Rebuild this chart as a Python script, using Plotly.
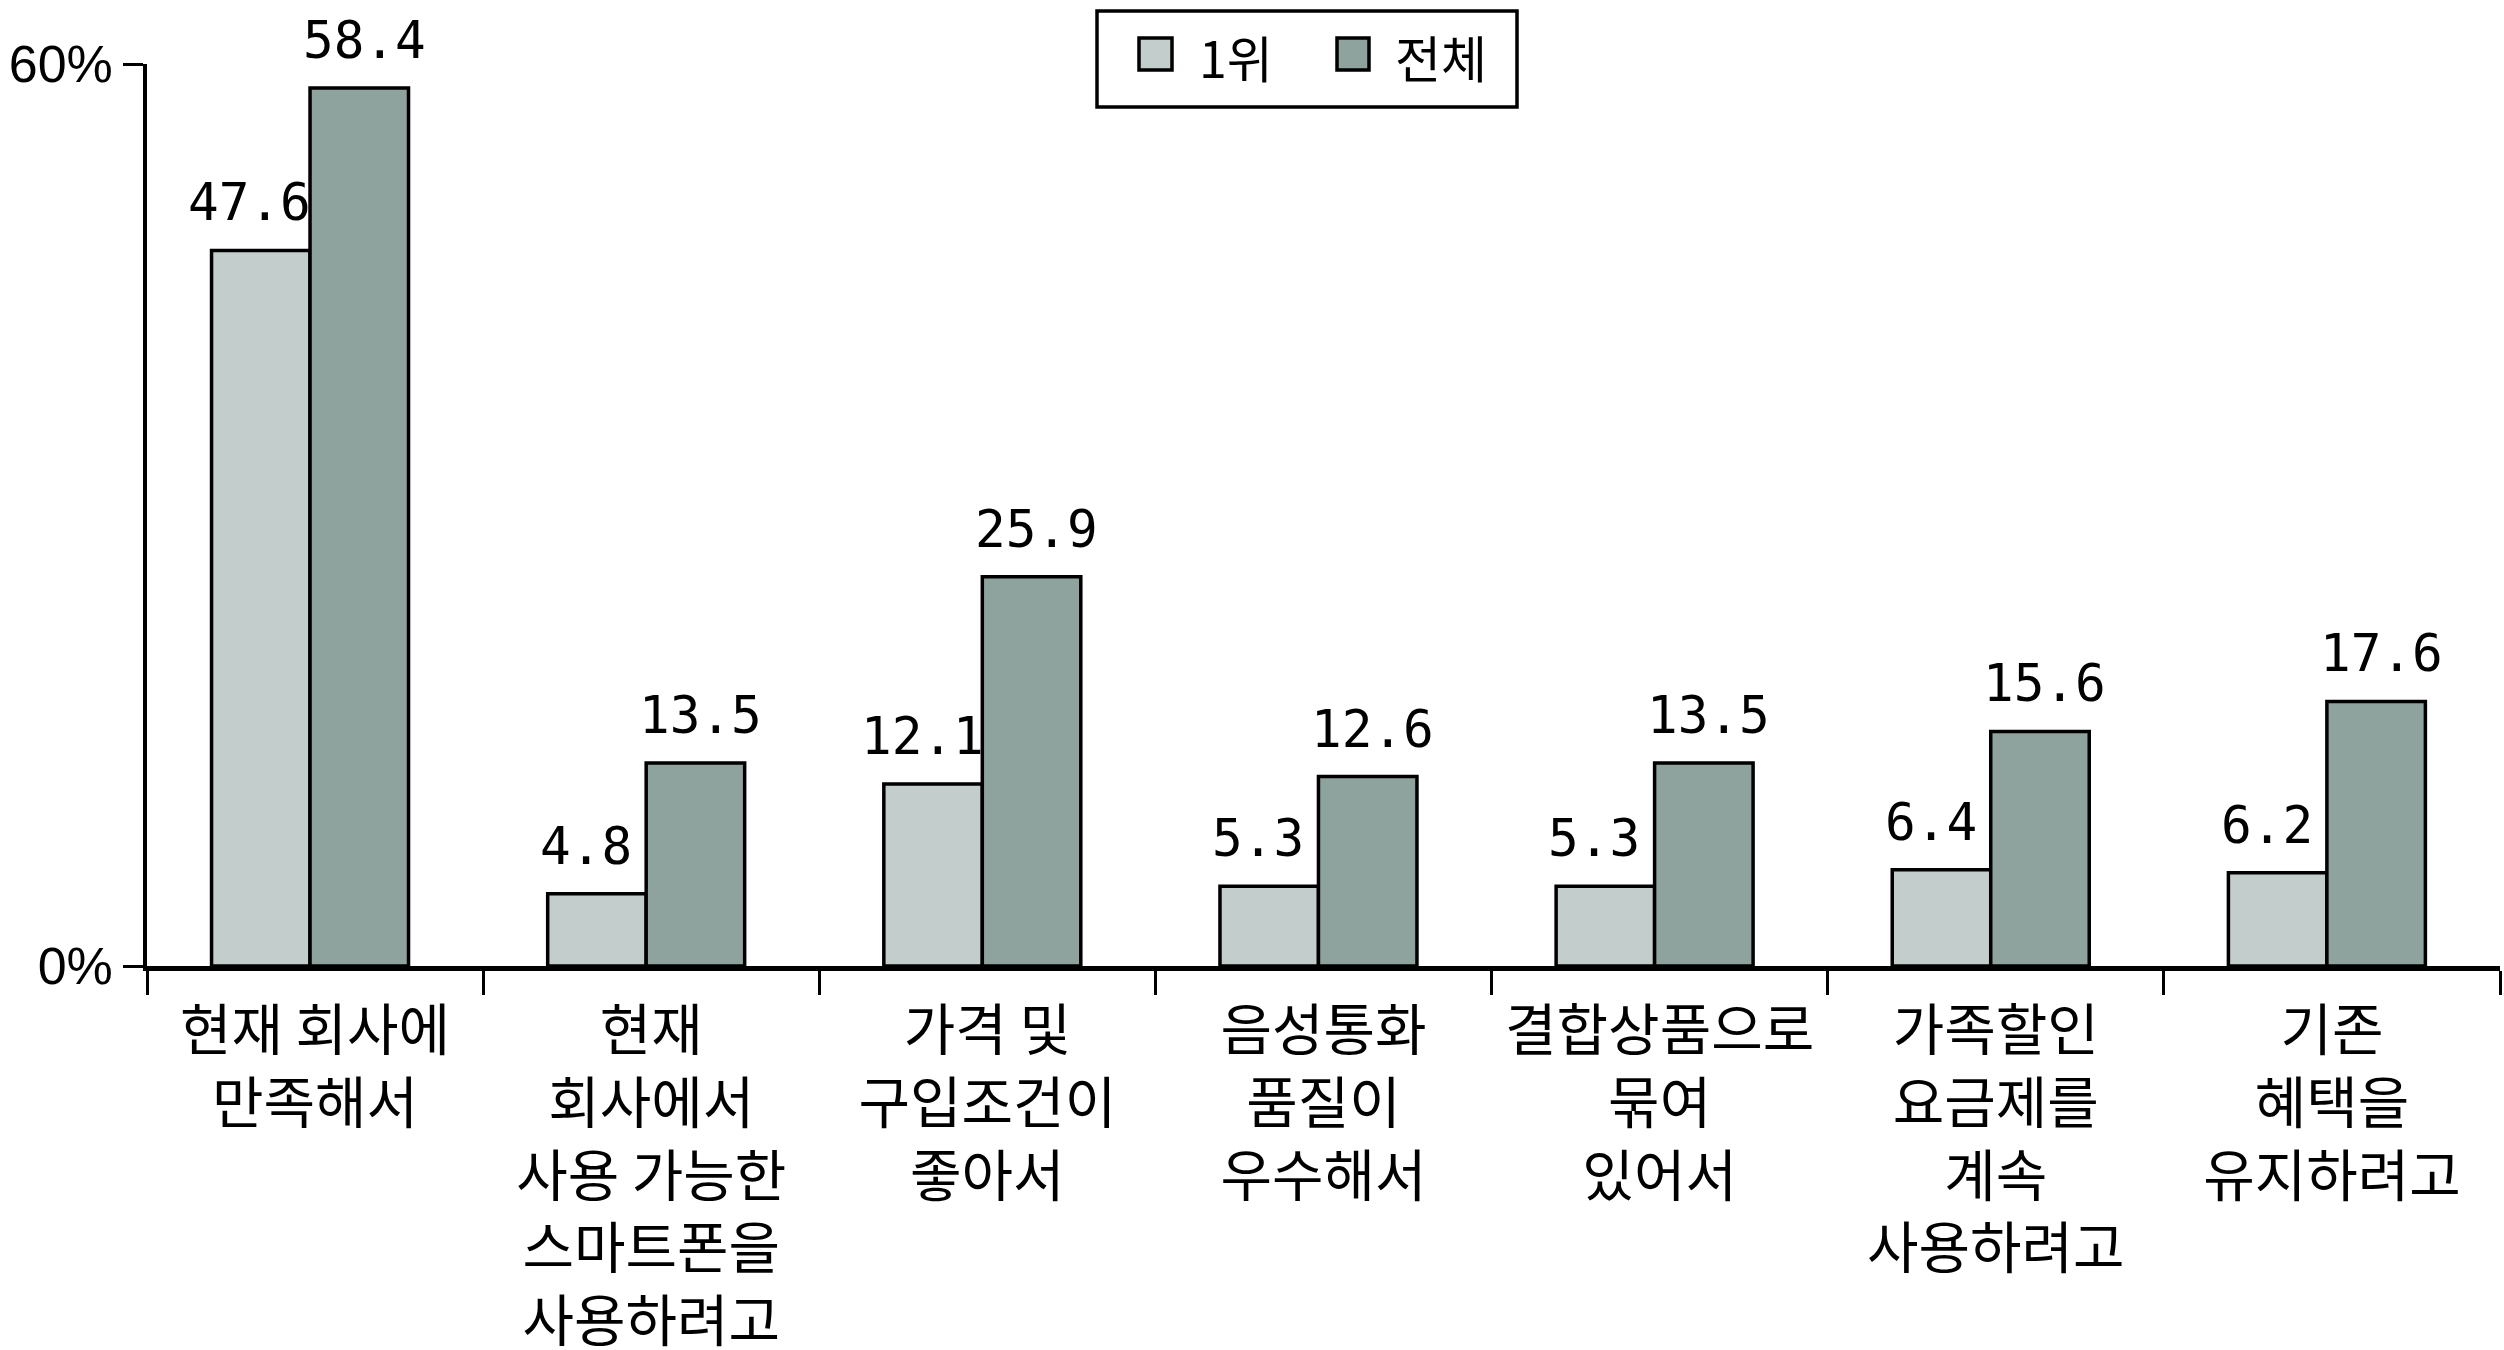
import plotly.graph_objects as go

categories = [
    "현재 회사에<br>만족해서",
    "현재<br>회사에서<br>사용 가능한<br>스마트폰을<br>사용하려고",
    "가격 및<br>구입조건이<br>좋아서",
    "음성통화<br>품질이<br>우수해서",
    "결합상품으로<br>묶여<br>있어서",
    "가족할인<br>요금제를<br>계속<br>사용하려고",
    "기존<br>혜택을<br>유지하려고",
]
series_names = ["1위", "전체"]
first_rank = [47.6, 4.8, 12.1, 5.3, 5.3, 6.4, 6.2]
total = [58.4, 13.5, 25.9, 12.6, 13.5, 15.6, 17.6]
ytick_vals = [0, 60]
ytick_text = ["0%", "60%"]

W, H = 2504, 1350
ML, MR, MT, MB = 147, 4, 64, 384
PW, PH = W - ML - MR, H - MT - MB
BAR_W = 0.293          # bar width, in category units
BAR_OFFSETS = [-0.308, -0.015]
LABEL_NUDGE = [-11, 5]  # px nudge of value labels relative to bar centre
colors = ["#C3CDCC", "#8EA29E"]

KFONT = "Noto Sans CJK KR, Noto Sans, sans-serif"
NFONT = "Liberation Sans, Arial, sans-serif"
MFONT = "DejaVu Sans Mono, Liberation Mono, monospace"

fig = go.Figure()
for name, vals, col, off in zip(series_names, [first_rank, total], colors, BAR_OFFSETS):
    fig.add_trace(go.Bar(
        x=categories, y=vals, name=name, width=BAR_W, offset=off,
        marker=dict(color=col, line=dict(color="black", width=3.5)),
        showlegend=False,
    ))

# value labels
cat_px = PW / len(categories)
ann = []
for vals, off, nudge in zip([first_rank, total], BAR_OFFSETS, LABEL_NUDGE):
    shift = (off + BAR_W / 2) * cat_px + nudge
    for c, v in zip(categories, vals):
        ann.append(dict(x=c, y=v, xref="x", yref="y", text=f"{v:.1f}",
                        showarrow=False, xshift=shift, yshift=16,
                        yanchor="bottom", xanchor="center",
                        font=dict(family=MFONT, size=51, color="black")))

def px2x(px):
    return (px - ML) / PW

def py2y(py):
    return (MT + PH - py) / PH

# legend box (drawn)
shapes = [
    dict(type="rect", xref="paper", yref="paper",
         x0=px2x(1097), x1=px2x(1517), y0=py2y(107), y1=py2y(11),
         line=dict(color="black", width=3.5), fillcolor="white"),
]
legend_items = [(1139, 1172, 1197), (1337, 1369, 1393)]
for (sx0, sx1, tx), name, col in zip(legend_items, series_names, colors):
    shapes.append(dict(type="rect", xref="paper", yref="paper",
                       x0=px2x(sx0), x1=px2x(sx1), y0=py2y(70), y1=py2y(38),
                       line=dict(color="black", width=3.5), fillcolor=col))
    ann.append(dict(x=px2x(tx), y=py2y(56), xref="paper", yref="paper",
                    text=name, showarrow=False, xanchor="left", yanchor="middle",
                    font=dict(family=KFONT, size=50, color="black")))

fig.update_layout(
    width=W, height=H,
    margin=dict(l=ML, r=MR, t=MT, b=MB, autoexpand=False),
    paper_bgcolor="white", plot_bgcolor="white",
    barmode="group",
    annotations=ann, shapes=shapes,
    showlegend=False,
)
fig.update_xaxes(
    type="category", tickson="boundaries",
    ticks="outside", ticklen=24, tickwidth=3, tickcolor="black",
    showline=True, linecolor="black", linewidth=4.5,
    showgrid=False, zeroline=False,
    tickfont=dict(family=KFONT, size=56, color="black"),
    ticklabelstandoff=12, automargin=False,
)
fig.update_yaxes(
    range=[0, 60], tickvals=ytick_vals, ticktext=ytick_text,
    ticks="outside", ticklen=20, tickwidth=3, tickcolor="black",
    showline=True, linecolor="black", linewidth=3.5,
    showgrid=False, zeroline=False,
    tickfont=dict(family=NFONT, size=52, color="black"),
    ticklabelstandoff=0, automargin=False,
)

fig.write_html("out.html")
